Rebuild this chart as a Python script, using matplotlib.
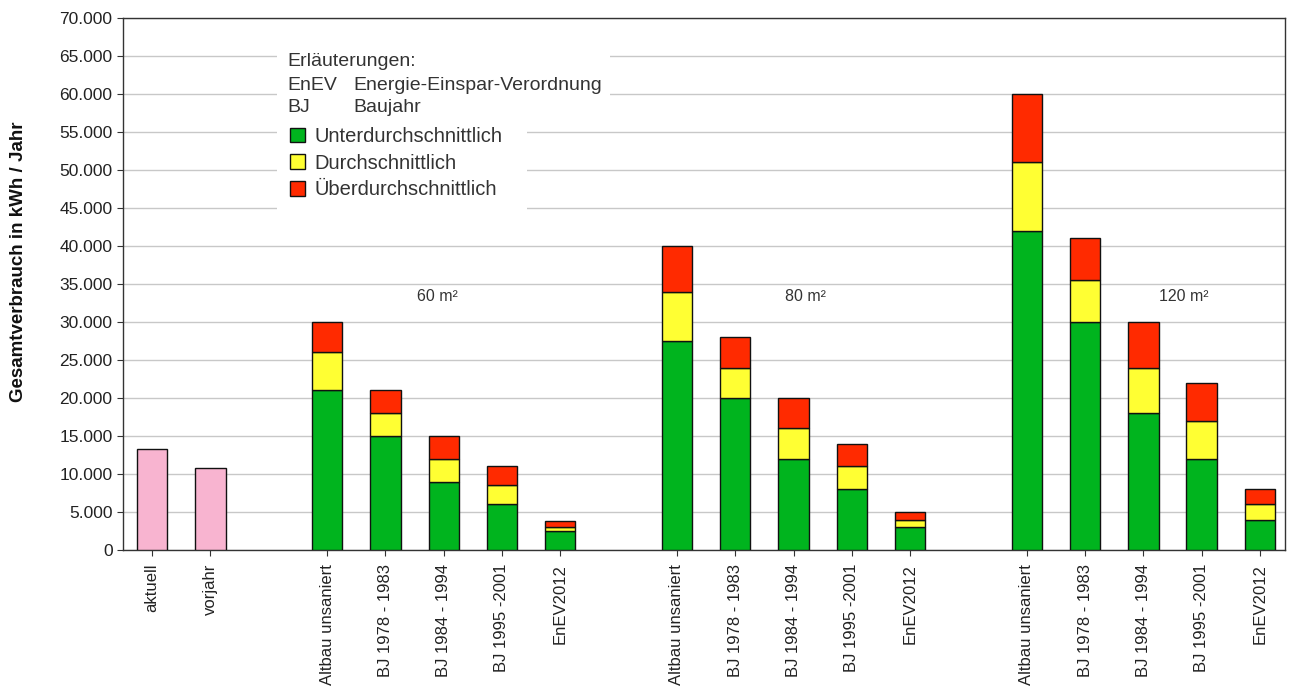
"""
Gesamtverbrauch chart
"""
import numpy as np
import matplotlib
matplotlib.use("Agg")
import matplotlib.pyplot as plt
from matplotlib.patches import Patch, Rectangle
from matplotlib.ticker import FuncFormatter, MultipleLocator

plt.rcParams["font.family"] = ["Liberation Sans", "DejaVu Sans"]

# slots along the x axis ("" = empty gap slot)
labels = ["aktuell", "vorjahr", "",
          "Altbau unsaniert", "BJ 1978 - 1983", "BJ 1984 - 1994", "BJ 1995 -2001", "EnEV2012", "",
          "Altbau unsaniert", "BJ 1978 - 1983", "BJ 1984 - 1994", "BJ 1995 -2001", "EnEV2012", "",
          "Altbau unsaniert", "BJ 1978 - 1983", "BJ 1984 - 1994", "BJ 1995 -2001", "EnEV2012"]

own_idx = [0, 1]
own_vals = [13300, 10800]

stack_idx = [3, 4, 5, 6, 7, 9, 10, 11, 12, 13, 15, 16, 17, 18, 19]
unter = [21000, 15000, 9000, 6000, 2500,
         27500, 20000, 12000, 8000, 3000,
         42000, 30000, 18000, 12000, 4000]
durch = [5000, 3000, 3000, 2500, 500,
         6500, 4000, 4000, 3000, 1000,
         9000, 5500, 6000, 5000, 2000]
ueber = [4000, 3000, 3000, 2500, 800,
         6000, 4000, 4000, 3000, 1000,
         9000, 5500, 6000, 5000, 2000]

groups = ["60 m²", "80 m²", "120 m²"]
group_x = [4.9, 11.2, 17.7]
group_y = [33400, 33400, 33400]

GREEN = "#00b41e"
YELLOW = "#ffff33"
RED = "#ff2a00"
PINK = "#f8b4d0"


def fmt(val, _pos):
    return f"{int(val):,}".replace(",", ".")


def main():
    fig = plt.figure(figsize=(12.92, 6.89), dpi=100)
    ax = fig.add_axes([0.0952, 0.2017, 0.8994, 0.7721])

    xs = np.arange(len(labels))
    width = 0.52
    edge = dict(edgecolor="#111111", linewidth=1.0, width=width, zorder=3)

    ax.bar(xs[own_idx], own_vals, color=PINK, **edge)
    sx = xs[stack_idx]
    un = np.array(unter)
    du = np.array(durch)
    ue = np.array(ueber)
    ax.bar(sx, un, color=GREEN, **edge)
    ax.bar(sx, du, bottom=un, color=YELLOW, **edge)
    ax.bar(sx, ue, bottom=un + du, color=RED, **edge)

    for name, gx, gy in zip(groups, group_x, group_y):
        ax.text(gx, gy, name, ha="center", va="center", fontsize=11.5, color="#333333")

    ax.set_xlim(-0.5, 19.43)
    ax.set_ylim(0, 70000)
    ax.yaxis.set_major_locator(MultipleLocator(5000))
    ax.yaxis.set_major_formatter(FuncFormatter(fmt))
    ax.grid(axis="y", color="#c8c8c8", linewidth=1.0, zorder=0)
    ax.set_axisbelow(True)

    ticks = [i for i, lab in enumerate(labels) if lab]
    ax.set_xticks(ticks)
    ax.set_xticklabels([labels[i] for i in ticks], rotation=90, fontsize=12, color="#222222")
    ax.tick_params(axis="y", labelsize=12.5, labelcolor="#222222", length=4, color="#333333")
    ax.tick_params(axis="x", length=4, color="#333333", pad=6)
    for sp in ax.spines.values():
        sp.set_color("#333333")
        sp.set_linewidth(1.0)

    fig.text(19 / 1292, 1 - 262 / 689, "Gesamtverbrauch in kWh / Jahr", rotation=90,
             fontsize=13.5, fontweight="bold", ha="center", va="center", color="#111111")

    # explanation block (white background)
    ax.add_patch(Rectangle((277 / 1292, 1 - 212 / 689), 250 / 1292, 167 / 689,
                           transform=fig.transFigure, facecolor="white",
                           edgecolor="none", zorder=2))
    ax.add_patch(Rectangle((277 / 1292, 1 - 118 / 689), 333 / 1292, 73 / 689,
                           transform=fig.transFigure, facecolor="white",
                           edgecolor="none", zorder=2))
    tkw = dict(transform=fig.transFigure, fontsize=14, color="#333333", va="center", zorder=4)
    fig.text(287 / 1292, 1 - 62 / 689, "Erläuterungen:", **tkw)
    fig.text(287 / 1292, 1 - 85 / 689, "EnEV", **tkw)
    fig.text(353 / 1292, 1 - 85 / 689, "Energie-Einspar-Verordnung", **tkw)
    fig.text(287 / 1292, 1 - 108 / 689, "BJ", **tkw)
    fig.text(353 / 1292, 1 - 108 / 689, "Baujahr", **tkw)

    handles = [Patch(facecolor=GREEN, edgecolor="#111111"),
               Patch(facecolor=YELLOW, edgecolor="#111111"),
               Patch(facecolor=RED, edgecolor="#111111")]
    leg = ax.legend(handles, ["Unterdurchschnittlich", "Durchschnittlich", "Überdurchschnittlich"],
                    loc="upper left", bbox_to_anchor=(290 / 1292, 1 - 127 / 689),
                    bbox_transform=fig.transFigure, frameon=False, fontsize=14.5,
                    handlelength=0.75, handleheight=0.75, handletextpad=0.45,
                    labelspacing=0.38, borderaxespad=0, borderpad=0)
    for txt in leg.get_texts():
        txt.set_color("#333333")
    leg.set_zorder(5)

    fig.savefig("out.png", dpi=100)


if __name__ == "__main__":
    main()
